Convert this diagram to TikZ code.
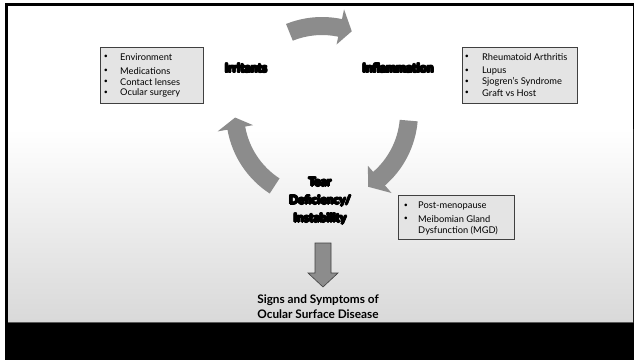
\documentclass[tikz,border=0pt]{standalone}
\usepackage{fontspec}
\setmainfont{Lato}
\usetikzlibrary{calc}
\definecolor{arrowgray}{HTML}{8C8C8C}
\definecolor{boxgray}{HTML}{E4E4E4}
\definecolor{edgegray}{HTML}{404040}
\newcommand\hcopy[3]{\makebox[0pt][l]{\hspace*{#1}\raisebox{#2}{#3}}}
\newcommand\heavytext[1]{\leavevmode
  \hcopy{1pt}{0pt}{#1}\hcopy{-1pt}{0pt}{#1}\hcopy{0pt}{0.8pt}{#1}\hcopy{0pt}{-0.8pt}{#1}%
  \hcopy{0.7pt}{0.6pt}{#1}\hcopy{-0.7pt}{0.6pt}{#1}\hcopy{0.7pt}{-0.6pt}{#1}\hcopy{-0.7pt}{-0.6pt}{#1}%
  \hcopy{0.5pt}{0pt}{#1}\hcopy{-0.5pt}{0pt}{#1}\hcopy{0pt}{0.4pt}{#1}\hcopy{0pt}{-0.4pt}{#1}%
  #1}
\tikzset{
  listbox/.style={draw=edgegray, line width=0.8pt, fill=boxgray, inner sep=0pt},
  item/.style={anchor=west, inner sep=0pt, font=\fontsize{9.3}{11}\selectfont},
  bul/.style={anchor=center, inner sep=0pt, font=\fontsize{7}{9}\selectfont},
  heavy/.style={align=center, inner sep=0pt, text=black, font=\bfseries\fontsize{12}{18}\selectfont},
  cyclefill/.style={fill=arrowgray},
}
\newcommand\cyclearrow[3]{%
  \fill[cyclefill] ($(C)+(#1:78)$) arc[start angle=#1, end angle=#2, radius=78pt]
    -- ($(C)+(#2:70)$) -- ($(C)+(#3:87)$) -- ($(C)+(#2:106)$) -- ($(C)+(#2:96)$)
    arc[start angle=#2, end angle=#1, radius=96pt] -- cycle;}
\begin{document}
\begin{tikzpicture}[x=1pt,y=1pt]
\useasboundingbox (0,0) rectangle (634,360);
\fill[white] (0,0) rectangle (634,360);
\fill[black] (5,0) rectangle (634,357);
\fill[white] (8,230) rectangle (633,354);
\shade[top color=white, bottom color=black!15] (8,38) rectangle (633,230.5);
\draw[black!65, line width=1pt] (8,38) -- (633,38);
\coordinate (C) at (322,247);
% cycle arrows
\cyclearrow{112}{78}{70}
\cyclearrow{-5}{-49}{-58}
\cyclearrow{237}{190}{183}
% main labels
\node[heavy] (irr) at (246,292) {\heavytext{Irritants}};
\node[heavy] (inf) at (398,292) {\heavytext{Inflammation}};
\node[heavy] (tear) at (320,159) {\heavytext{Tear}\\\heavytext{Deficiency/}\\\heavytext{Instability}};
% left box
\node[listbox, minimum width=103pt, minimum height=56pt] (lbox) at (151.5,285) {};
\foreach \y/\t [count=\i] in {303/Environment, 289/Medications, 278/Contact lenses, 267/Ocular surgery}{
  \node[bul] (lb\i) at (106,\y) {•};
  \node[item] (lt\i) at (120,\y) {\t};
}
% right box
\node[listbox, minimum width=115pt, minimum height=56pt] (rbox) at (519.5,285) {};
\foreach \y/\t [count=\i] in {303/Rheumatoid Arthritis, 289/Lupus, 278/Sjogren’s Syndrome, 267/Graft vs Host}{
  \node[bul] (rb\i) at (467,\y) {•};
  \node[item] (rt\i) at (482,\y) {\t};
}
% bottom right box
\node[listbox, minimum width=116pt, minimum height=44pt] (bbox) at (456,143) {};
\node[bul] (bb1) at (406,154) {•};
\node[item] (bt1) at (418,154) {Post-menopause};
\node[bul] (bb2) at (406,141) {•};
\node[item] (bt2) at (418,141) {Meibomian Gland};
\node[item] (bt3) at (418,129) {Dysfunction (MGD)};
% down arrow
\coordinate (dtop) at (323,117);
\filldraw[fill=arrowgray, draw=edgegray, line width=0.6pt]
  ($(dtop)+(-8,0)$) -- ($(dtop)+(8,0)$) -- ($(dtop)+(8,-30)$) -- ($(dtop)+(15,-30)$)
  -- ($(dtop)+(0,-44)$) -- ($(dtop)+(-15,-30)$) -- ($(dtop)+(-8,-30)$) -- cycle;
\node[align=center, inner sep=0pt, font=\bfseries\fontsize{11.8}{15}\selectfont] (signs) at (318,53.5)
  {Signs and Symptoms of\\Ocular Surface Disease};
\end{tikzpicture}
\end{document}
